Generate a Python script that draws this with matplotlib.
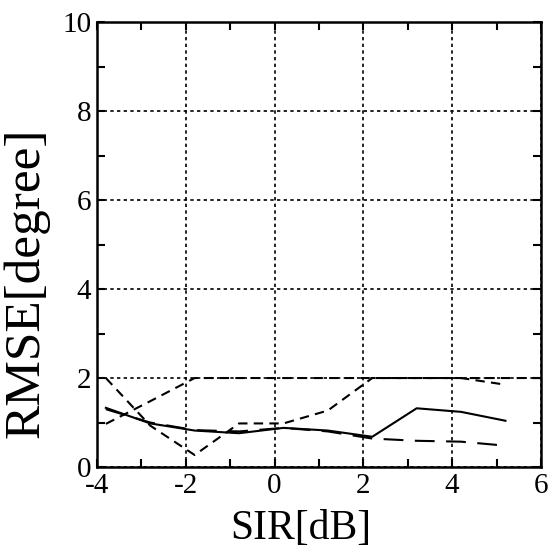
import matplotlib
matplotlib.use("Agg")
import matplotlib.pyplot as plt
from matplotlib.ticker import MultipleLocator

plt.rcParams['font.family'] = ['Liberation Serif', 'DejaVu Serif']

# SIR values [dB]
sir = [-3.8, -2.8, -1.8, -0.8, 0.2, 1.2, 2.2, 3.2, 4.2, 5.2]
sir_b = [-3.8, -2.8, -1.8, -0.8, 0.2, 1.2, 2.2, 3.2, 4.2, 5.2, 6.0]

# RMSE [degree] for each method
rmse_solid = [1.33, 0.98, 0.82, 0.76, 0.88, 0.82, 0.68, 1.32, 1.24, 1.04]
rmse_dash_b = [0.97, 1.48, 2.0, 2.0, 2.0, 2.0, 2.0, 2.0, 2.0, 2.0, 2.0]
rmse_dash_c = [2.0, 0.93, 0.27, 0.98, 0.98, 1.27, 2.0, 2.0, 2.0, 1.85]
rmse_longdash = [1.30, 1.00, 0.83, 0.80, 0.88, 0.80, 0.64, 0.59, 0.57, 0.48]

xticks = [-4, -2, 0, 2, 4, 6]
xtick_labels = ['-4', '-2', '0', '2', '4', '6']
yticks = [0, 2, 4, 6, 8, 10]

fig = plt.figure(figsize=(5.52, 5.60), dpi=100)
ax = fig.add_axes([0.1757, 0.166, 0.8043, 0.7947])

# grid first so the curves sit on top
ax.grid(True, which='major', color='black', linewidth=1.2, linestyle=(0, (2, 2)))
ax.set_axisbelow(True)

ax.plot(sir, rmse_solid, color='black', linewidth=1.5)
l, = ax.plot(sir_b, rmse_dash_b, color='black', linewidth=1.5)
l.set_dashes([4.5, 3])
l, = ax.plot(sir, rmse_dash_c, color='black', linewidth=1.5)
l.set_dashes([4.5, 3])
l, = ax.plot(sir, rmse_longdash, color='black', linewidth=1.5)
l.set_dashes([9.5, 5.5])

ax.set_xlim(-4, 6)
ax.set_ylim(0, 10)
ax.set_xticks(xticks)
ax.set_xticklabels(xtick_labels)
ax.set_yticks(yticks)
ax.xaxis.set_minor_locator(MultipleLocator(1))
ax.yaxis.set_minor_locator(MultipleLocator(1))
ax.tick_params(which='both', direction='in', top=True, right=True,
               length=6, width=1.5, labelsize=21, pad=4)

for s in ax.spines.values():
    s.set_linewidth(1.8)

ax.set_xlabel('SIR[dB]', fontsize=30)
ax.set_ylabel('RMSE[degree]', fontsize=37)
ax.xaxis.set_label_coords(0.46, -0.095)
ax.yaxis.set_label_coords(-0.106, 0.413)

fig.savefig('out.png', dpi=100)
